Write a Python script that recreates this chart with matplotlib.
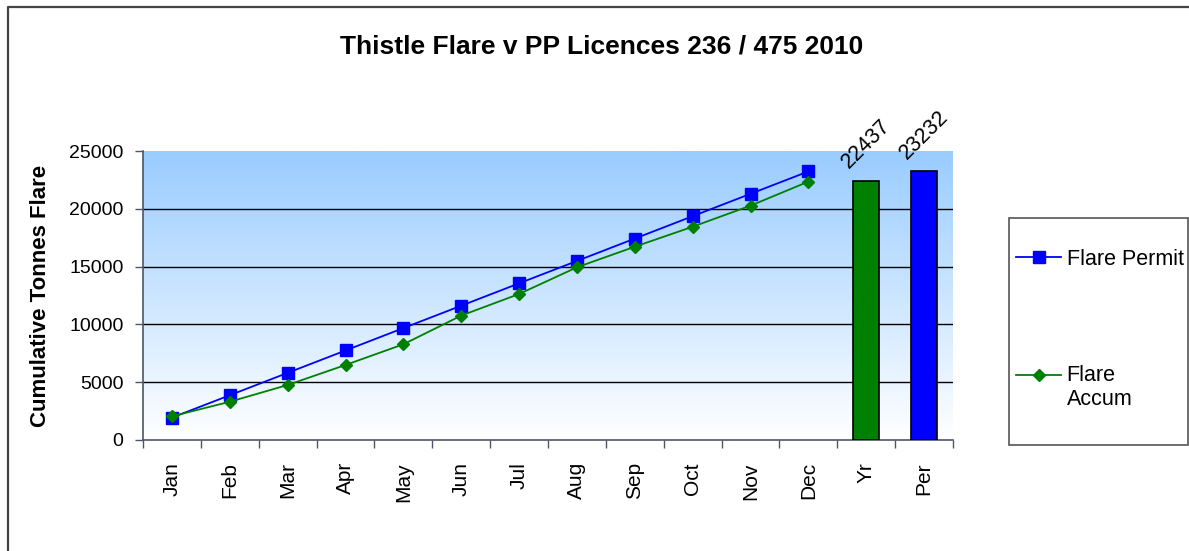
import matplotlib
matplotlib.use("Agg")
import matplotlib.pyplot as plt
import numpy as np
from matplotlib.patches import Rectangle
from matplotlib.lines import Line2D
from matplotlib.legend_handler import HandlerLine2D

plt.rcParams['font.family'] = ['Liberation Sans', 'DejaVu Sans']

months = ["Jan", "Feb", "Mar", "Apr", "May", "Jun", "Jul", "Aug", "Sep", "Oct", "Nov", "Dec"]
totals = ["Yr", "Per"]
flare_permit = [1936, 3872, 5808, 7744, 9680, 11616, 13552, 15488, 17424, 19360, 21296, 23232]
flare_accum = [2050, 3310, 4760, 6490, 8280, 10760, 12630, 14940, 16720, 18450, 20270, 22350]
total_values = [22437, 23232]
total_colors = ["#008000", "#0000ff"]

W, H = 1189, 551
fig = plt.figure(figsize=(W / 100, H / 100), dpi=100)

# outer chart frame: only left and top edges are inside the picture
fig.lines.append(Line2D([8 / W, 8 / W, 1.0], [0.0, 1 - 7 / H, 1 - 7 / H],
                        transform=fig.transFigure, color="#444444", linewidth=1.6))

ax = fig.add_axes([143 / W, (H - 440) / H, (953 - 143) / W, (440 - 151) / H])

cats = months + totals
x = np.arange(len(cats))

# gradient background
grad = np.linspace(0, 1, 256).reshape(-1, 1)
top = np.array([153, 204, 255]) / 255
bot = np.array([255, 255, 255]) / 255
img = top[None, None, :] * (1 - grad[:, :, None]) + bot[None, None, :] * grad[:, :, None]
ax.imshow(img, extent=[-0.5, len(cats) - 0.5, 0, 25000], aspect="auto", zorder=0)

ax.set_xlim(-0.5, len(cats) - 0.5)
ax.set_ylim(0, 25000)

for yv in range(5000, 25000, 5000):
    ax.axhline(yv, color="black", linewidth=1, zorder=1)

xm = np.arange(len(months))
ax.plot(xm, flare_permit, color="#0000ff", marker="s", markersize=8, linewidth=1.3,
        label="Flare Permit", zorder=4)
ax.plot(xm, flare_accum, color="#008000", marker="D", markersize=6.5, linewidth=1.3,
        label="Flare\nAccum", zorder=4)

xb = np.arange(len(months), len(cats))
bars = ax.bar(xb, total_values, width=0.45, color=total_colors, edgecolor="black",
              linewidth=1.2, zorder=3)
for b, v in zip(bars, total_values):
    ax.annotate(str(v), xy=(b.get_x() + b.get_width() / 2, v), xytext=(0, 6),
                textcoords="offset points", rotation=45, ha="center", va="bottom",
                fontsize=15.5)

for s in ["top", "right"]:
    ax.spines[s].set_visible(False)
for s in ["left", "bottom"]:
    ax.spines[s].set_color("#4d5566")
    ax.spines[s].set_linewidth(1.2)

ax.set_yticks(range(0, 25001, 5000))
ax.tick_params(axis="y", labelsize=14, length=6, width=1, color="#4d5566", pad=8)
ax.set_xticks(x)
ax.set_xticklabels(cats, rotation=90, fontsize=15)
ax.set_xticks(np.arange(-0.5, len(cats)), minor=True)
ax.tick_params(axis="x", which="major", length=0, pad=16)
ax.tick_params(axis="x", which="minor", length=6, width=1, color="#4d5566")

ax.set_ylabel("Cumulative Tonnes Flare", fontsize=16, fontweight="bold", labelpad=13)

fig.text(602 / W, 1 - 46 / H, "Thistle Flare v PP Licences 236 / 475 2010", ha="center",
         va="center", fontsize=19, fontweight="bold")


class FirstLineHandler(HandlerLine2D):
    # put the marker level with the first line of a two-line label
    def create_artists(self, legend, orig_handle, xdescent, ydescent, width, height,
                       fontsize, trans):
        return super().create_artists(legend, orig_handle, xdescent, ydescent - 1.2 * fontsize,
                                      width, height, fontsize, trans)


# legend box
fig.patches.append(Rectangle((1009 / W, (H - 445) / H), (1188 - 1009) / W, (445 - 218) / H,
                             transform=fig.transFigure, fill=False, edgecolor="#555555",
                             linewidth=1.2))
lines = ax.get_lines()
fig.legend(loc="upper left", bbox_to_anchor=(1016 / W, 1 - 249 / H), frameon=False,
           fontsize=15.5, handlelength=2.1, handletextpad=0.25, labelspacing=4.4,
           borderaxespad=0, borderpad=0,
           handler_map={lines[-1]: FirstLineHandler()})

fig.savefig("out.png", dpi=100)
